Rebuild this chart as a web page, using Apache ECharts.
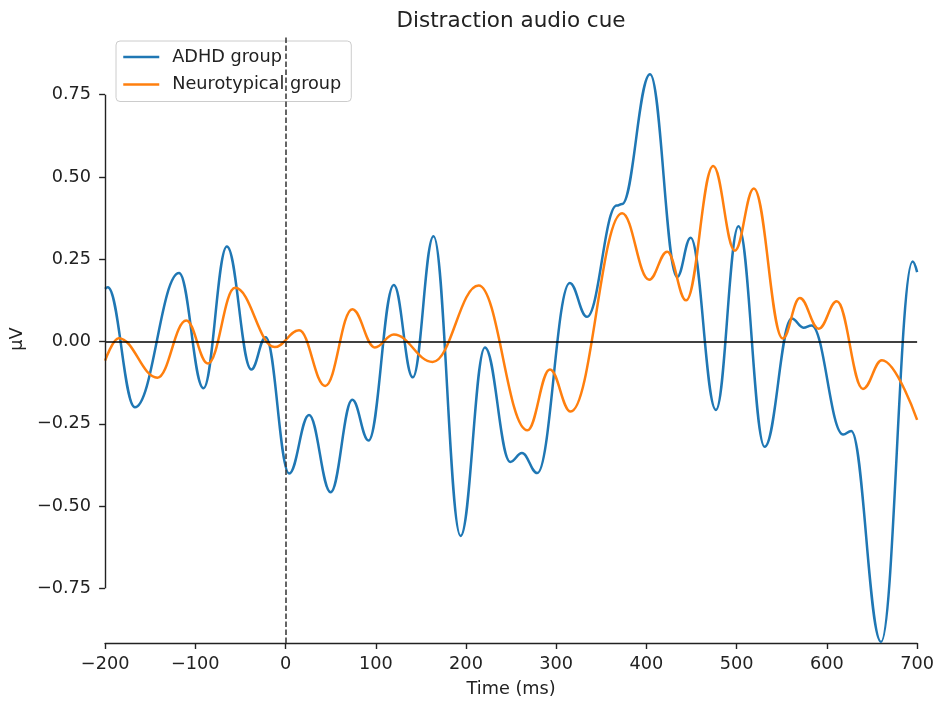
<!DOCTYPE html>
<html>
<head>
<meta charset="utf-8">
<script src="https://cdn.jsdelivr.net/npm/echarts@6/dist/echarts.min.js"></script>
<style>
  html, body { margin: 0; padding: 0; background: #ffffff; }
  #chart { width: 937px; height: 703px; }
</style>
</head>
<body>
<div id="chart"></div>
<script>
// ERP averages: local extrema of each group's waveform (time in ms, amplitude in µV)
const adhdTimes  = [-200, -197, -167, -118, -91, -65, -38, -22, 4, 26, 50, 74, 92, 120, 141, 164, 194, 221, 249, 262, 279, 315, 334, 367, 373, 404, 434, 449, 477, 502, 531, 561, 574, 583, 618, 627, 660, 695, 700];
const adhdValues = [0.160, 0.165, -0.200, 0.208, -0.142, 0.289, -0.085, 0.013, -0.401, -0.223, -0.458, -0.177, -0.301, 0.172, -0.109, 0.320, -0.591, -0.018, -0.366, -0.339, -0.400, 0.178, 0.075, 0.413, 0.418, 0.812, 0.196, 0.315, -0.208, 0.350, -0.320, 0.070, 0.042, 0.049, -0.283, -0.272, -0.913, 0.243, 0.211];

const ntTimes  = [-200, -185, -142, -110, -86, -56, -12, 15, 44, 74, 99, 120, 163, 214, 268, 293, 316, 373, 403, 423, 444, 474, 498, 519, 551, 570, 591, 611, 640, 661, 700];
const ntValues = [-0.058, 0.010, -0.110, 0.064, -0.067, 0.163, -0.017, 0.034, -0.135, 0.098, -0.018, 0.021, -0.062, 0.170, -0.270, -0.085, -0.213, 0.390, 0.188, 0.273, 0.125, 0.533, 0.276, 0.465, 0.009, 0.132, 0.039, 0.122, -0.144, -0.057, -0.238];

const xTicks = [-200, -100, 0, 100, 200, 300, 400, 500, 600, 700];
const yTicks = [-0.75, -0.50, -0.25, 0.00, 0.25, 0.50, 0.75];
const yRange = [-0.9163, 0.9315];

const seriesNames = ['ADHD group', 'Neurotypical group'];
const colors = ['#1f77b4', '#ff7f0e'];
const FONT = 'DejaVu Sans';
const INK = '#222222';
const LABEL_SIZE = 17.7;

const withMinus = s => String(s).replace('-', '\u2212');
const pairs = (ts, vs) => ts.map((t, i) => [t, vs[i]]);

const chart = echarts.init(document.getElementById('chart'), null, { renderer: 'canvas' });

const curve = (name, data, color) => ({
  name: name,
  type: 'line',
  data: data,
  symbol: 'none',
  showSymbol: false,
  smooth: 0.4,
  smoothMonotone: 'x',
  clip: false,
  lineStyle: { color: color, width: 2.5 },
  itemStyle: { color: color },
  emphasis: { disabled: true },
  z: 3
});

chart.setOption({
  animation: false,
  backgroundColor: '#ffffff',
  grid: { left: 104, right: 19, top: 35, bottom: 57, containLabel: false },
  graphic: [{
    type: 'text',
    x: 511,
    y: 21.5,
    style: {
      text: 'Distraction audio cue',
      fontFamily: FONT,
      fontSize: 21.5,
      fill: INK,
      align: 'center',
      verticalAlign: 'middle'
    }
  }],
  legend: {
    data: seriesNames,
    orient: 'vertical',
    left: 116,
    top: 41,
    itemWidth: 36,
    itemHeight: 17,
    itemGap: 9.5,
    padding: [7, 10, 8, 6],
    backgroundColor: 'rgba(255,255,255,0.8)',
    borderColor: '#cccccc',
    borderWidth: 1,
    borderRadius: 4,
    itemStyle: { opacity: 0 },
    lineStyle: { width: 2.5 },
    textStyle: { fontFamily: FONT, fontSize: LABEL_SIZE, color: INK, padding: [0, 0, 0, 8] }
  },
  xAxis: {
    type: 'value',
    min: xTicks[0],
    max: xTicks[xTicks.length - 1],
    interval: 100,
    name: 'Time (ms)',
    nameLocation: 'middle',
    nameGap: 37,
    nameTextStyle: { fontFamily: FONT, fontSize: LABEL_SIZE, color: INK },
    axisLine: { show: true, onZero: false, lineStyle: { color: INK, width: 1.4 } },
    axisTick: { show: true, inside: false, length: 6, lineStyle: { color: INK, width: 1.4 } },
    axisLabel: { fontFamily: FONT, fontSize: LABEL_SIZE, color: INK, margin: 12, formatter: v => withMinus(v) },
    splitLine: { show: false }
  },
  yAxis: {
    type: 'value',
    min: yRange[0],
    max: yRange[1],
    name: 'µV',
    nameLocation: 'middle',
    nameRotate: 90,
    nameGap: 74,
    nameTextStyle: { fontFamily: FONT, fontSize: LABEL_SIZE, color: INK },
    axisLine: { show: false, onZero: false },
    axisTick: { show: true, inside: false, length: 6, customValues: yTicks, lineStyle: { color: INK, width: 1.4 } },
    axisLabel: { fontFamily: FONT, fontSize: LABEL_SIZE, color: INK, margin: 14, customValues: yTicks, formatter: v => withMinus(v.toFixed(2)) },
    splitLine: { show: false }
  },
  series: [
    curve(seriesNames[0], pairs(adhdTimes, adhdValues), colors[0]),
    curve(seriesNames[1], pairs(ntTimes, ntValues), colors[1]),
    {
      name: 'reference lines',
      type: 'line',
      data: [],
      silent: true,
      z: 4,
      markLine: {
        silent: true,
        symbol: ['none', 'none'],
        label: { show: false },
        emphasis: { disabled: true },
        animation: false,
        data: [
          { yAxis: 0, lineStyle: { color: '#000000', width: 1.6, type: 'solid' } },
          { xAxis: 0, lineStyle: { color: '#333333', width: 1.5, type: [5.5, 2.5] } },
          [
            { coord: [xTicks[0], yTicks[0]], lineStyle: { color: INK, width: 1.4, type: 'solid' } },
            { coord: [xTicks[0], yTicks[yTicks.length - 1]] }
          ]
        ]
      }
    }
  ]
});
</script>
</body>
</html>
